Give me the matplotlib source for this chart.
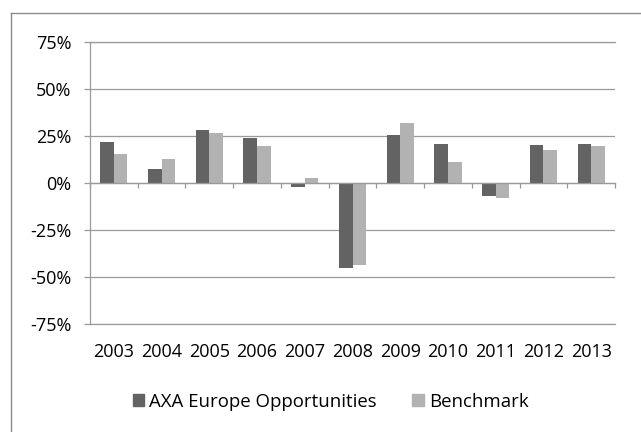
import matplotlib.pyplot as plt
from matplotlib.lines import Line2D
from matplotlib.patches import Patch
from matplotlib.ticker import FuncFormatter
import numpy as np

years = ['2003', '2004', '2005', '2006', '2007', '2008', '2009', '2010', '2011', '2012', '2013']
axa = [21.8, 7.1, 28.0, 23.7, -2.1, -45.3, 25.3, 20.4, -7.3, 20.0, 20.7]
bench = [15.2, 12.4, 26.2, 19.5, 2.5, -43.7, 31.5, 11.0, -8.0, 17.3, 19.3]
y_ticks = [-75, -50, -25, 0, 25, 50, 75]

dark = '#636363'
light = '#b2b2b2'
grid_c = '#9a9a9a'

plt.rcParams['font.family'] = ['Open Sans', 'DejaVu Sans']

fig = plt.figure(figsize=(6.41, 4.32), dpi=100)
W, H = 641, 432
ax = fig.add_axes([90 / W, 1 - 323.7 / H, 525 / W, 282 / H])

x = np.arange(len(years))
bw = 0.285
ax.bar(x - bw / 2, axa, bw, color=dark, zorder=3)
ax.bar(x + bw / 2, bench, bw, color=light, zorder=3)

ax.set_xlim(-0.5, len(years) - 0.5)
ax.set_ylim(-75, 75)
ax.set_yticks(y_ticks)
ax.yaxis.set_major_formatter(FuncFormatter(lambda v, p: '%d%%' % v))
ax.tick_params(axis='y', length=4.3, width=0.9, color=grid_c, pad=9, labelsize=13)
ax.yaxis.grid(True, color=grid_c, lw=0.9, zorder=1)
for v in (y_ticks[0], y_ticks[-1]):
    ax.axhline(v, color=grid_c, lw=0.9, zorder=1, clip_on=False)

for s in ['top', 'right']:
    ax.spines[s].set_visible(False)
ax.spines['left'].set_color(grid_c)
ax.spines['left'].set_linewidth(0.9)
ax.spines['bottom'].set_position(('data', 0))
ax.spines['bottom'].set_color(grid_c)
ax.spines['bottom'].set_linewidth(0.9)
ax.spines['bottom'].set_zorder(4)

# tick marks between categories on the zero line
ax.set_xticks(np.arange(len(years) + 1) - 0.5)
ax.tick_params(axis='x', length=3.6, width=0.9, color=grid_c, labelbottom=False)

# category labels below the plot
sec = ax.secondary_xaxis(0)
sec.set_xticks(x)
sec.set_xticklabels(years)
sec.tick_params(length=0, pad=14, labelsize=13)
sec.spines['bottom'].set_visible(False)

handles = [Patch(color=dark, label='AXA Europe Opportunities'),
           Patch(color=light, label='Benchmark')]
fig.legend(handles=handles, loc='center', bbox_to_anchor=(0.516, 0.07), ncol=2,
           frameon=False, fontsize=13.4, handlelength=0.6, handleheight=0.6,
           handletextpad=0.3, columnspacing=1.9)

# outer chart border
fig.add_artist(Line2D([10.5 / W, 10.5 / W], [0, 1 - 12.5 / H], transform=fig.transFigure,
                      color='#8a8a8a', lw=1.0))
fig.add_artist(Line2D([10.5 / W, 1], [1 - 12.5 / H, 1 - 12.5 / H], transform=fig.transFigure,
                      color='#8a8a8a', lw=1.0))

fig.savefig('out.png', dpi=100)
